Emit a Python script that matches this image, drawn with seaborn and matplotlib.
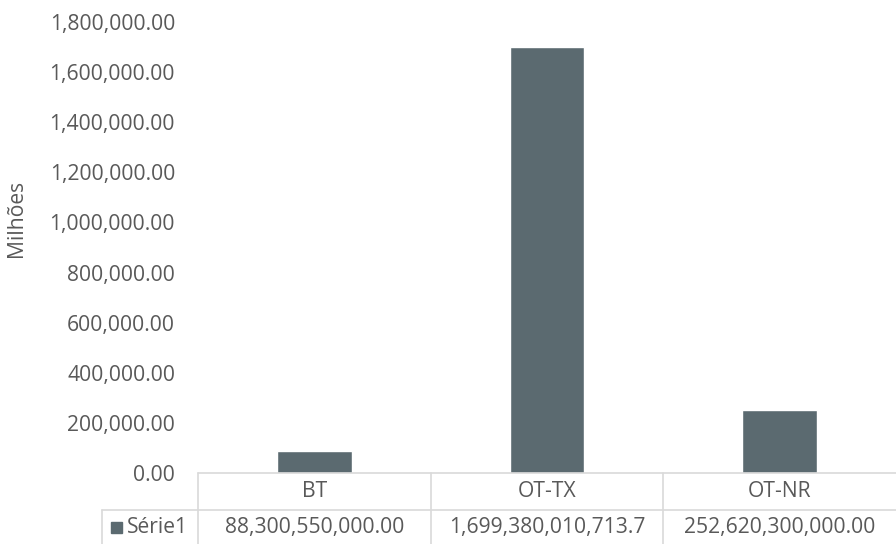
import matplotlib
matplotlib.use("Agg")
import matplotlib.pyplot as plt
from matplotlib.lines import Line2D
from matplotlib.patches import Rectangle
from matplotlib.ticker import FuncFormatter
import seaborn as sns
import pandas as pd

categories = ["BT", "OT-TX", "OT-NR"]
values = [88300550000.00, 1699380010713.7, 252620300000.00]
table_labels = ["88,300,550,000.00", "1,699,380,010,713.7", "252,620,300,000.00"]
series_name = "Série1"
y_ticks = [0, 200000, 400000, 600000, 800000, 1000000, 1200000, 1400000, 1600000, 1800000]

sns.set_theme(style="white")
plt.rcParams['font.family'] = ['Open Sans', 'DejaVu Sans']

W, H = 896, 544
fig = plt.figure(figsize=(W / 100, H / 100), dpi=100)

def fx(px):
    return px / W

def fy(py):
    return 1 - py / H

left, right, top, bottom = 198, 896, 22, 473
ax = fig.add_axes([fx(left), fy(bottom), fx(right) - fx(left), fy(top) - fy(bottom)])

bar_color = "#5B6A70"
text_color = "#595959"
line_color = "#D9D9D9"
fs = 15.2

df = pd.DataFrame({"cat": categories, "val": [v / 1e6 for v in values]})
sns.barplot(data=df, x="cat", y="val", color=bar_color, width=0.32, ax=ax, saturation=1)
ax.set_xlim(-0.5, 2.5)
ax.set_ylim(0, 1800000)
ax.set_yticks(y_ticks)
ax.yaxis.set_major_formatter(FuncFormatter(lambda v, p: f"{v:,.2f}"))
ax.tick_params(axis="y", length=0, pad=16.5, labelsize=fs, labelcolor=text_color)
ax.set_xticks([])
ax.set_xlabel("")
ax.set_ylabel("")
for s in ax.spines.values():
    s.set_visible(False)

fig.text(fx(17), fy(218), "Milhões", rotation=90, ha="center", va="center",
         fontsize=fs, color=text_color)

# data table
row1_top, row1_bot, row2_bot = 473, 510, 544
col_w = (right - left) / 3
cols = [left + i * col_w for i in range(4)]
leg_left = 102

def hline(y, x0, x1):
    fig.add_artist(Line2D([fx(x0), fx(x1)], [fy(y), fy(y)], color=line_color, lw=1.2,
                          transform=fig.transFigure))

def vline(x, y0, y1):
    fig.add_artist(Line2D([fx(x), fx(x)], [fy(y0), fy(y1)], color=line_color, lw=1.2,
                          transform=fig.transFigure))

hline(row1_top, left, right)
hline(row1_bot, leg_left, right)
vline(leg_left, row1_bot, row2_bot)
for c in cols[:-1]:
    vline(c, row1_top, row2_bot)

for i, cat in enumerate(categories):
    cx = (cols[i] + cols[i + 1]) / 2
    fig.text(fx(cx), fy((row1_top + row1_bot) / 2), cat, ha="center", va="center",
             fontsize=fs, color=text_color)
    fig.text(fx(cx), fy((row1_bot + row2_bot) / 2 + 1), table_labels[i], ha="center",
             va="center", fontsize=fs, color=text_color)

fig.add_artist(Rectangle((fx(111), fy(533)), fx(11), fy(522) - fy(533), color=bar_color,
                         transform=fig.transFigure))
fig.text(fx(127), fy(527.5), series_name, ha="left", va="center", fontsize=fs,
         color=text_color)

fig.savefig("out.png", dpi=100)
